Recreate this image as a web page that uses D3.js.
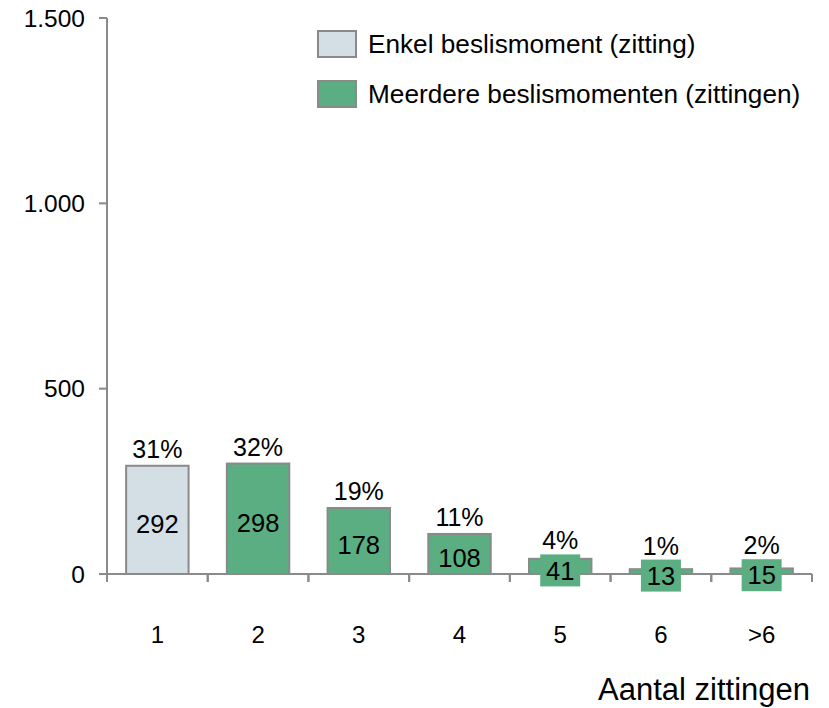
<!DOCTYPE html>
<html><head><meta charset="utf-8">
<script src="https://cdn.jsdelivr.net/npm/d3@7"></script>
<style>body{margin:0;background:#fff}svg{display:block}text{font-family:"Liberation Sans",Arial,sans-serif;fill:#000}</style>
</head><body>
<script>
const categories = ["1","2","3","4","5","6",">6"];
const values = [292,298,178,108,41,13,15];
const percents = ["31%","32%","19%","11%","4%","1%","2%"];
const seriesOf = ["single","multi","multi","multi","multi","multi","multi"];
const yTicks = [0,500,1000,1500];
const yTickLabels = ["0","500","1.000","1.500"];
const legendLabels = ["Enkel beslismoment (zitting)","Meerdere beslismomenten (zittingen)"];
const xTitle = "Aantal zittingen";

const W=829,H=708;
const colors={single:"#d3dfe5",multi:"#5aae82"};
const stroke="#8a8a8a";
const svg=d3.select("body").append("svg").attr("width",W).attr("height",H);
const x=d3.scaleBand().domain(categories).range([107,812]).paddingInner(0.38).paddingOuter(0.19);
const y=d3.scaleLinear().domain([0,1500]).range([574,18]);

svg.append("line").attr("x1",107).attr("x2",107).attr("y1",y(1500)).attr("y2",582).attr("stroke",stroke).attr("stroke-width",2);
svg.append("line").attr("x1",107).attr("x2",812).attr("y1",y(0)).attr("y2",y(0)).attr("stroke",stroke).attr("stroke-width",2);
yTicks.forEach((t,i)=>{
  svg.append("line").attr("x1",99).attr("x2",107).attr("y1",y(t)).attr("y2",y(t)).attr("stroke",stroke).attr("stroke-width",2);
  svg.append("text").attr("x",85).attr("y",y(t)).attr("dy","0.36em").attr("text-anchor","end").attr("font-size",24.5).text(yTickLabels[i]);
});
const step=x.step();
categories.forEach((c,i)=>{
  const left=x(c)-(step-x.bandwidth())/2;
  const right=left+step;
  [left,right].forEach(b=>svg.append("line").attr("x1",b).attr("x2",b).attr("y1",y(0)).attr("y2",y(0)+8).attr("stroke",stroke).attr("stroke-width",2));
  svg.append("text").attr("x",x(c)+x.bandwidth()/2).attr("y",643).attr("text-anchor","middle").attr("font-size",24).text(c);
});

const g=svg.append("g");
categories.forEach((c,i)=>{
  const cx=x(c)+x.bandwidth()/2;
  g.append("rect").attr("x",x(c)).attr("y",y(values[i])).attr("width",x.bandwidth()).attr("height",y(0)-y(values[i]))
    .attr("fill",colors[seriesOf[i]]).attr("stroke",stroke).attr("stroke-width",2);
  const my=(y(values[i])+y(0))/2+4;
  if(values[i]<60){
    g.append("rect").attr("x",cx-20).attr("y",my-16).attr("width",40).attr("height",32).attr("fill",colors[seriesOf[i]]);
  }
  g.append("text").attr("x",cx).attr("y",my).attr("dy","0.36em").attr("text-anchor","middle").attr("font-size",25.5).text(values[i]);
  g.append("text").attr("x",cx).attr("y",Math.min(y(values[i])-8, my-21)).attr("text-anchor","middle").attr("font-size",25).text(percents[i]);
});

const lg=svg.append("g");
["single","multi"].forEach((k,i)=>{
  const yy=31+i*50;
  lg.append("rect").attr("x",318).attr("y",yy).attr("width",38).attr("height",26).attr("fill",colors[k]).attr("stroke",stroke).attr("stroke-width",2);
  lg.append("text").attr("x",368).attr("y",yy+13).attr("dy","0.36em").attr("font-size",26.2).text(legendLabels[i]);
});

svg.append("text").attr("x",810).attr("y",700).attr("text-anchor","end").attr("font-size",31).text(xTitle);
</script>
</body></html>
